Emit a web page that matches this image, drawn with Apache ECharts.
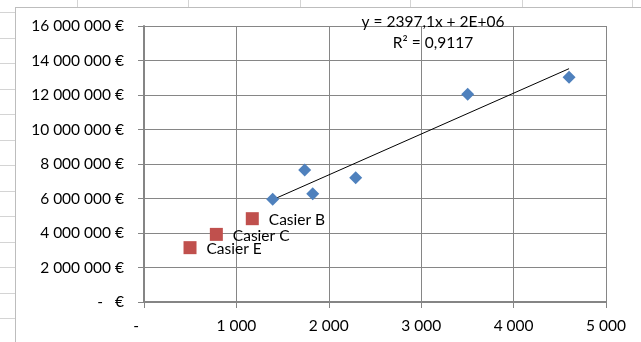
<!DOCTYPE html>
<html><head><meta charset="utf-8">
<script src="https://cdn.jsdelivr.net/npm/echarts@6/dist/echarts.min.js"></script>
<style>html,body{margin:0;padding:0;background:#fff}#c{width:641px;height:342px}</style>
</head><body><div id="c"></div>
<script>
// Data
const blueX = [1393, 1739, 1826, 2291, 3503, 4600];
const blueY = [5950000, 7650000, 6280000, 7200000, 12040000, 13030000];
const redNames = ['Casier B', 'Casier C', 'Casier E'];
const redX = [1172, 783, 498];
const redY = [4830000, 3920000, 3150000];
const xTicks = [0, 1000, 2000, 3000, 4000, 5000];
const yTicks = [0, 2e6, 4e6, 6e6, 8e6, 10e6, 12e6, 14e6, 16e6];
const trendLabel = ['y = 2397,1x + 2E+06', 'R² = 0,9117'];

// least-squares trendline over blue series (as the spreadsheet does)
const n = blueX.length;
const mx = blueX.reduce((a, b) => a + b, 0) / n;
const my = blueY.reduce((a, b) => a + b, 0) / n;
let sxy = 0, sxx = 0;
for (let i = 0; i < n; i++) { sxy += (blueX[i] - mx) * (blueY[i] - my); sxx += (blueX[i] - mx) ** 2; }
const slope = sxy / sxx, icpt = my - slope * mx;
const x0 = Math.min(...blueX), x1 = Math.max(...blueX);

function grp(v) { return String(Math.round(v)).replace(/\B(?=(\d{3})+(?!\d))/g, ' '); }

const FONT = 'Lato';
const chart = echarts.init(document.getElementById('c'));

// spreadsheet background decorations
const deco = [];
for (let i = 0; i < 13; i++) {
  const y = Math.round(12 + 25.5 * i) + 0.5;
  deco.push({ type: 'line', shape: { x1: 0, y1: y, x2: 15, y2: y }, style: { stroke: '#d4d4d4', lineWidth: 1 } });
}
[77, 188, 300, 410, 522, 632].forEach(x => deco.push({ type: 'line', shape: { x1: x + 0.5, y1: 0, x2: x + 0.5, y2: 7 }, style: { stroke: '#d4d4d4', lineWidth: 1 } }));
deco.push({ type: 'line', shape: { x1: 15.5, y1: 7, x2: 15.5, y2: 342 }, style: { stroke: '#bdbdbd', lineWidth: 1 } });
deco.push({ type: 'line', shape: { x1: 15, y1: 7.5, x2: 641, y2: 7.5 }, style: { stroke: '#bdbdbd', lineWidth: 1 } });
deco.push({ type: 'text', x: 433, y: 22, z: 10, style: { text: trendLabel[0], font: '15.5px ' + FONT, fill: '#000', textAlign: 'center', textVerticalAlign: 'middle' } });
deco.push({ type: 'text', x: 433, y: 43, z: 10, style: { text: trendLabel[1], font: '15.5px ' + FONT, fill: '#000', textAlign: 'center', textVerticalAlign: 'middle' } });

chart.setOption({
  animation: false,
  backgroundColor: '#fff',
  grid: { left: 144, right: 35, top: 26, bottom: 40 },
  graphic: deco,
  xAxis: {
    type: 'value', min: xTicks[0], max: xTicks[xTicks.length - 1], interval: 1000,
    axisLine: { show: true, onZero: false, lineStyle: { color: '#858585', width: 2 } },
    axisTick: { show: true, length: 6, lineStyle: { color: '#858585', width: 1 } },
    splitLine: { show: true, lineStyle: { color: '#868686', width: 1 } },
    axisLabel: { margin: 16, color: '#000', fontFamily: FONT, fontSize: 15.5,
      formatter: v => v === 0 ? '-    ' : grp(v) }
  },
  yAxis: {
    type: 'value', min: yTicks[0], max: yTicks[yTicks.length - 1], interval: 2e6,
    axisLine: { show: true, onZero: false, lineStyle: { color: '#858585', width: 2 } },
    axisTick: { show: true, length: 6, lineStyle: { color: '#858585', width: 1 } },
    splitLine: { show: true, lineStyle: { color: '#868686', width: 1 } },
    axisLabel: { margin: 20, color: '#000', fontFamily: FONT, fontSize: 15.5,
      formatter: v => v === 0 ? '-   €' : grp(v) + ' €' }
  },
  series: [
    { type: 'line', data: [[x0, slope * x0 + icpt], [x1, slope * x1 + icpt]], symbol: 'none', silent: true,
      lineStyle: { color: '#000', width: 1 }, z: 3 },
    { type: 'scatter', symbol: 'diamond', symbolSize: 13, itemStyle: { color: '#4F81BD', opacity: 1 },
      data: blueX.map((x, i) => [x, blueY[i]]), z: 4 },
    { type: 'scatter', symbol: 'rect', symbolSize: 13, itemStyle: { color: '#C0504D', opacity: 1 },
      data: redX.map((x, i) => ({ name: redNames[i], value: [x, redY[i]] })), z: 4,
      label: { show: true, position: 'right', distance: 10, offset: [0, 1.5], formatter: p => p.name,
        color: '#000', fontFamily: FONT, fontSize: 15.5 } }
  ]
});
</script></body></html>
